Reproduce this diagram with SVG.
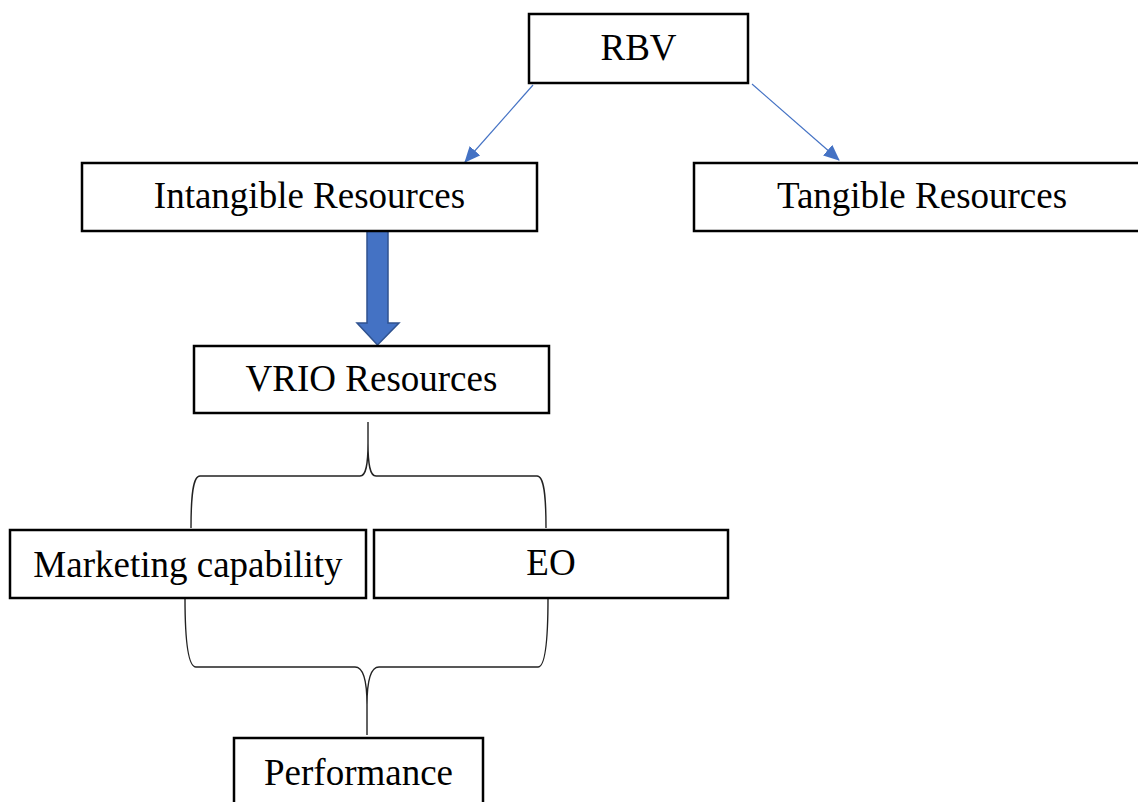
<svg xmlns="http://www.w3.org/2000/svg" width="1138" height="802" viewBox="0 0 1138 802">
<style>
.box{fill:#fff;stroke:#000;stroke-width:2.5}
.lbl{font-family:"Liberation Serif","Times New Roman",serif;font-size:37px;fill:#000;text-anchor:middle}
.thin{stroke:#4472C4;stroke-width:1.2;fill:none}
.brace{stroke:#222;stroke-width:1.4;fill:none}
</style>
<defs>
<marker id="ah" markerUnits="userSpaceOnUse" markerWidth="16" markerHeight="14" refX="15" refY="7" orient="auto">
<path d="M0,0 L16,7 L0,14 Z" fill="#4472C4"/>
</marker>
</defs>
<rect width="1138" height="802" fill="#fff"/>
<g id="connectors">
<line class="thin" x1="533" y1="85" x2="465" y2="162" marker-end="url(#ah)"/>
<line class="thin" x1="752" y1="84" x2="839" y2="160" marker-end="url(#ah)"/>
<path d="M367,231 L388,231 L388,323 L399,323 L377.5,345 L357,323 L367,323 Z" fill="#4472C4" stroke="#2F528F" stroke-width="1.5"/>
<path class="brace" d="M191,528 C191,495 193,476 200,476 L360,476 C366,476 368,465 368,443 L368,422 M368,443 C368,465 370,476 376,476 L537,476 C544,476 546,495 546,528"/>
<path class="brace" d="M185,598 C185,640 188,667 196,667 L355,667 C363,667 367,680 367,705 L367,735 M367,705 C367,680 371,667 379,667 L538,667 C545,667 548,640 548,598"/>
</g>
<g id="rbv"><rect class="box" x="529" y="14" width="219" height="69"/><text class="lbl" x="638.5" y="60">RBV</text></g>
<g id="intangible"><rect class="box" x="82" y="163" width="455" height="68"/><text class="lbl" x="309.5" y="208">Intangible Resources</text></g>
<g id="tangible"><rect class="box" x="694" y="163" width="460" height="68"/><text class="lbl" x="922" y="208">Tangible Resources</text></g>
<g id="vrio"><rect class="box" x="194" y="346" width="355" height="67"/><text class="lbl" x="371.5" y="391">VRIO Resources</text></g>
<g id="marketing"><rect class="box" x="10" y="530" width="356" height="68"/><text class="lbl" x="188" y="577">Marketing capability</text></g>
<g id="eo"><rect class="box" x="374" y="530" width="354" height="68"/><text class="lbl" x="551" y="575">EO</text></g>
<g id="performance"><rect class="box" x="234" y="738" width="249" height="80"/><text class="lbl" x="358.5" y="785">Performance</text></g>
</svg>
